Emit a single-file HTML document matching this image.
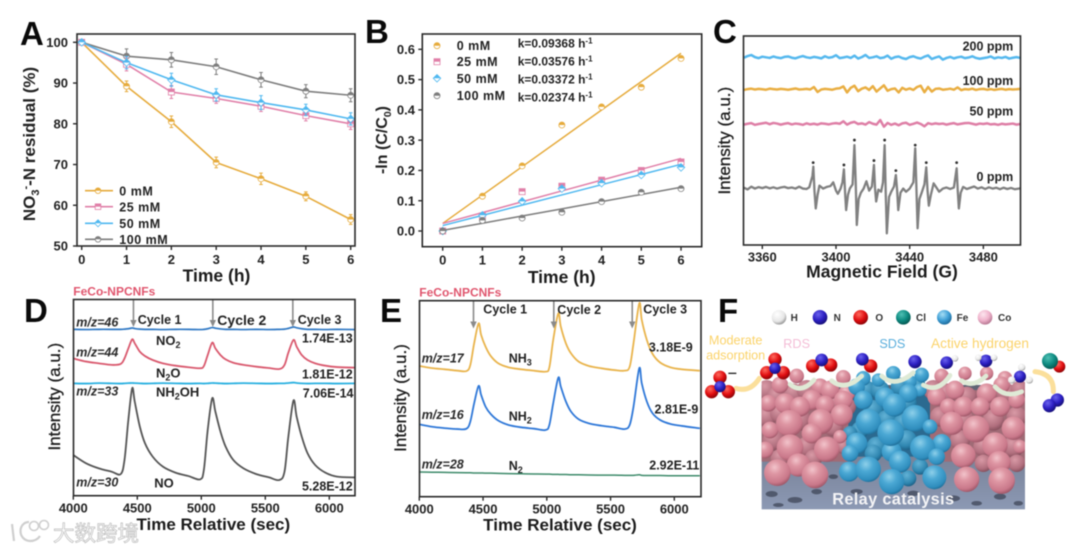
<!DOCTYPE html>
<html lang="en">
<head>
<meta charset="utf-8">
<title>FeCo-NPCNFs relay catalysis figure</title>
<style>
html,body{margin:0;padding:0;background:#fff;width:1080px;height:552px;overflow:hidden}
svg{display:block;filter:blur(.6px);font-family:"Liberation Sans","Noto Sans CJK SC",sans-serif}
.b{font-weight:700;fill:#222}
.letter{font-weight:700;font-size:33px;fill:#0a0a0a}
.title{font-weight:700;font-size:17.5px;fill:#1c1c1c}
.tick{font-weight:700;font-size:13px;fill:#222}
.leg{font-weight:700;font-size:12.5px;fill:#222;letter-spacing:.5px}
.mz{font-weight:700;font-style:italic;font-size:12.5px;fill:#2a2a2a}
.cy{font-weight:700;font-size:12.5px;fill:#222}
.sp{font-weight:700;font-size:12.5px;fill:#222}
.val{font-weight:700;font-size:12.5px;fill:#222}
.int{font-size:17px;fill:#1c1c1c;stroke:#1c1c1c;stroke-width:.3}
.fe{font-weight:700;font-size:12px;fill:#e0566e}
.frame{fill:none;stroke:#2a2a2a;stroke-width:1.6}
</style>
</head>
<body>
<svg id="figure" xmlns="http://www.w3.org/2000/svg" width="1080" height="552" viewBox="0 0 1080 552">
<defs>
<radialGradient id="gp" cx="40%" cy="30%" r="72%"><stop offset="0" stop-color="#f2c4cb"/><stop offset=".35" stop-color="#de96a3"/><stop offset=".8" stop-color="#c9788a"/><stop offset="1" stop-color="#9c5566"/></radialGradient>
<radialGradient id="gpd" cx="40%" cy="30%" r="72%"><stop offset="0" stop-color="#d99aa6"/><stop offset=".7" stop-color="#b16f7e"/><stop offset="1" stop-color="#854f5c"/></radialGradient>
<radialGradient id="gb" cx="40%" cy="30%" r="72%"><stop offset="0" stop-color="#8ed0ea"/><stop offset=".4" stop-color="#4ba8d4"/><stop offset=".85" stop-color="#2f8dbd"/><stop offset="1" stop-color="#1f6e98"/></radialGradient>
<radialGradient id="gbd" cx="40%" cy="30%" r="72%"><stop offset="0" stop-color="#62b2d6"/><stop offset=".7" stop-color="#2f86b0"/><stop offset="1" stop-color="#1c5f85"/></radialGradient>
<radialGradient id="gn" cx="38%" cy="30%" r="70%"><stop offset="0" stop-color="#6a62ee"/><stop offset=".6" stop-color="#2c1fc2"/><stop offset="1" stop-color="#17107a"/></radialGradient>
<radialGradient id="go" cx="38%" cy="30%" r="70%"><stop offset="0" stop-color="#ff6a5e"/><stop offset=".6" stop-color="#e00d10"/><stop offset="1" stop-color="#8e0508"/></radialGradient>
<radialGradient id="gh" cx="38%" cy="30%" r="70%"><stop offset="0" stop-color="#fff"/><stop offset=".7" stop-color="#e6e6e6"/><stop offset="1" stop-color="#9a9a9a"/></radialGradient>
<radialGradient id="gc" cx="38%" cy="30%" r="70%"><stop offset="0" stop-color="#4fc0b4"/><stop offset=".6" stop-color="#0d8a80"/><stop offset="1" stop-color="#075a54"/></radialGradient>
<radialGradient id="gf" cx="38%" cy="30%" r="70%"><stop offset="0" stop-color="#a6def5"/><stop offset=".6" stop-color="#3f9fd6"/><stop offset="1" stop-color="#1f6d9e"/></radialGradient>
<radialGradient id="gk" cx="38%" cy="30%" r="70%"><stop offset="0" stop-color="#fde6ef"/><stop offset=".6" stop-color="#efb2cb"/><stop offset="1" stop-color="#b87a94"/></radialGradient>
<linearGradient id="gsub" x1="0" y1="0" x2="0" y2="1"><stop offset="0" stop-color="#5f6373"/><stop offset="1" stop-color="#8c99b4"/></linearGradient>
<clipPath id="fclip"><rect x="185" y="0" width="790" height="658"/></clipPath>
</defs>

<!-- Panel A -->
<g id="marks-a"></g>
<rect class="frame" x="77" y="34" width="278" height="212"/>
<g id="axis-a"></g>
<text class="letter" x="20" y="45">A</text>
<text class="title" x="216.5" y="281.5" text-anchor="middle">Time (h)</text>
<text class="b" font-size="17" transform="translate(35,144) rotate(-90)" text-anchor="middle">NO<tspan font-size="11" dy="4">3</tspan><tspan font-size="11" dy="-10">-</tspan><tspan dy="6">-N residual (%)</tspan></text>
<text class="leg" x="119.3" y="195.5">0 mM</text>
<text class="leg" x="119.3" y="211.5">25 mM</text>
<text class="leg" x="119.3" y="228">50 mM</text>
<text class="leg" x="119.3" y="244">100 mM</text>

<!-- Panel B -->
<g id="marks-b"></g>
<rect class="frame" x="422.3" y="34" width="279.4" height="212.7"/>
<g id="axis-b"></g>
<text class="letter" x="365" y="43">B</text>
<text class="title" x="561.7" y="283" text-anchor="middle">Time (h)</text>
<text class="b" font-size="16" transform="translate(387,140) rotate(-90)" text-anchor="middle">-ln (C/C<tspan font-size="10.5" dy="4">0</tspan><tspan dy="-4">)</tspan></text>
<text class="leg" x="456.7" y="50">0 mM</text>
<text class="leg" x="456.7" y="66">25 mM</text>
<text class="leg" x="456.7" y="83">50 mM</text>
<text class="leg" x="456.7" y="100">100 mM</text>
<text class="b" font-size="12" x="517.7" y="47.7">k=0.09368 h<tspan font-size="8" dy="-4">-1</tspan></text>
<text class="b" font-size="12" x="517.7" y="65.7">k=0.03576 h<tspan font-size="8" dy="-4">-1</tspan></text>
<text class="b" font-size="12" x="517.7" y="83.3">k=0.03372 h<tspan font-size="8" dy="-4">-1</tspan></text>
<text class="b" font-size="12" x="517.7" y="101.7">k=0.02374 h<tspan font-size="8" dy="-4">-1</tspan></text>

<!-- Panel C -->
<g id="marks-c"></g>
<rect class="frame" x="743.5" y="36" width="277" height="209"/>
<g id="axis-c"></g>
<text class="letter" x="713" y="43">C</text>
<text class="title" x="882" y="277.5" text-anchor="middle">Magnetic Field (G)</text>
<text class="int" transform="translate(730,140.7) rotate(-90)" text-anchor="middle">Intensity (a.u.)</text>
<text class="sp" x="1013.3" y="50.7" text-anchor="end">200 ppm</text>
<text class="sp" x="1013.3" y="85" text-anchor="end">100 ppm</text>
<text class="sp" x="1013.3" y="115.7" text-anchor="end">50 ppm</text>
<text class="sp" x="1013.3" y="181" text-anchor="end">0 ppm</text>

<!-- Panel D -->
<text class="fe" x="73.3" y="295.7">FeCo-NPCNFs</text>
<g id="marks-d"></g>
<rect class="frame" x="73.5" y="299.5" width="281.5" height="196.2"/>
<g id="axis-d"></g>
<text class="letter" x="24" y="322">D</text>
<text class="title" x="213.3" y="530" text-anchor="middle" style="font-size:17px">Time Relative (sec)</text>
<text class="int" transform="translate(60,396.7) rotate(-90)" text-anchor="middle">Intensity (a.u.)</text>
<text class="mz" x="76.3" y="326.7">m/z=46</text>
<text class="mz" x="76.3" y="356.7">m/z=44</text>
<text class="mz" x="76.3" y="395.7">m/z=33</text>
<text class="mz" x="76.3" y="486.7">m/z=30</text>
<text class="cy" x="137.7" y="324">Cycle 1</text>
<text class="cy" x="217.3" y="325" style="font-size:14px">Cycle 2</text>
<text class="cy" x="297.7" y="324">Cycle 3</text>
<text class="val" x="156" y="345" style="font-size:13px">NO<tspan font-size="9" dy="3">2</tspan></text>
<text class="val" x="156" y="377.7" style="font-size:13px">N<tspan font-size="9" dy="3">2</tspan><tspan dy="-3">O</tspan></text>
<text class="val" x="156" y="396.7" style="font-size:13px">NH<tspan font-size="9" dy="3">2</tspan><tspan dy="-3">OH</tspan></text>
<text class="val" x="154.3" y="487.7" style="font-size:13px">NO</text>
<text class="val" x="352.7" y="342.3" text-anchor="end">1.74E-13</text>
<text class="val" x="352.7" y="378.3" text-anchor="end">1.81E-12</text>
<text class="val" x="353.5" y="397.3" text-anchor="end">7.06E-14</text>
<text class="val" x="352.7" y="490.7" text-anchor="end">5.28E-12</text>

<!-- Panel E -->
<text class="fe" x="419.3" y="296.7">FeCo-NPCNFs</text>
<g id="marks-e"></g>
<rect class="frame" x="419.5" y="300.7" width="281.5" height="196"/>
<g id="axis-e"></g>
<text class="letter" x="380" y="322">E</text>
<text class="title" x="560" y="530.7" text-anchor="middle" style="font-size:17px">Time Relative (sec)</text>
<text class="int" transform="translate(406,398) rotate(-90)" text-anchor="middle">Intensity (a.u.)</text>
<text class="mz" x="421.7" y="362.7">m/z=17</text>
<text class="mz" x="421.7" y="419">m/z=16</text>
<text class="mz" x="421.7" y="468.3">m/z=28</text>
<text class="cy" x="483.3" y="313.3">Cycle 1</text>
<text class="cy" x="557.3" y="314">Cycle 2</text>
<text class="cy" x="643.3" y="313.3">Cycle 3</text>
<text class="val" x="508.7" y="362.3">NH<tspan font-size="9" dy="3">3</tspan></text>
<text class="val" x="508.7" y="420.7">NH<tspan font-size="9" dy="3">2</tspan></text>
<text class="val" x="508.7" y="470">N<tspan font-size="9" dy="3">2</tspan></text>
<text class="val" x="692.7" y="351.7" text-anchor="end">3.18E-9</text>
<text class="val" x="698.3" y="413.3" text-anchor="end">2.81E-9</text>
<text class="val" x="699.3" y="469.3" text-anchor="end">2.92E-11</text>

<!-- Panel F illustration: coordinates in a 3x local space -->
<text class="letter" x="718" y="322">F</text>
<g transform="translate(700,290) scale(.33333)">
  <rect x="185" y="285" width="790" height="373" fill="url(#gsub)"/>
  <rect x="185" y="300" width="260" height="215" fill="#a06b76"/>
  <rect x="445" y="300" width="245" height="200" fill="#2b6a90"/>
  <rect x="690" y="300" width="285" height="215" fill="#a06b76"/>
  <g fill="#3f4658" opacity=".75">
    <ellipse cx="215" cy="612" rx="18" ry="9"/><ellipse cx="285" cy="630" rx="22" ry="9"/><ellipse cx="350" cy="605" rx="16" ry="8"/><ellipse cx="400" cy="560" rx="14" ry="7"/><ellipse cx="470" cy="605" rx="18" ry="8"/><ellipse cx="640" cy="610" rx="18" ry="8"/><ellipse cx="760" cy="625" rx="20" ry="9"/><ellipse cx="830" cy="640" rx="16" ry="7"/><ellipse cx="900" cy="620" rx="18" ry="9"/><ellipse cx="955" cy="640" rx="14" ry="7"/><ellipse cx="235" cy="645" rx="16" ry="6"/>
  </g>
  <g clip-path="url(#fclip)">
  <g fill="url(#gpd)">
    <circle cx="200" cy="300" r="30"/><circle cx="230" cy="320" r="30"/><circle cx="280" cy="310" r="30"/><circle cx="320" cy="300" r="30"/><circle cx="350" cy="320" r="30"/><circle cx="400" cy="340" r="30"/><circle cx="440" cy="350" r="28"/><circle cx="200" cy="380" r="30"/><circle cx="240" cy="370" r="30"/><circle cx="300" cy="390" r="32"/><circle cx="400" cy="410" r="30"/><circle cx="220" cy="450" r="32"/><circle cx="320" cy="470" r="30"/><circle cx="430" cy="470" r="22"/><circle cx="240" cy="505" r="28"/><circle cx="340" cy="505" r="26"/>
    <circle cx="700" cy="300" r="30"/><circle cx="740" cy="310" r="30"/><circle cx="800" cy="320" r="30"/><circle cx="860" cy="330" r="30"/><circle cx="920" cy="310" r="30"/><circle cx="960" cy="300" r="28"/><circle cx="720" cy="380" r="30"/><circle cx="790" cy="390" r="32"/><circle cx="880" cy="390" r="32"/><circle cx="950" cy="380" r="30"/><circle cx="780" cy="450" r="30"/><circle cx="850" cy="470" r="30"/><circle cx="940" cy="470" r="32"/><circle cx="850" cy="520" r="26"/><circle cx="950" cy="520" r="26"/>
  </g>
  <g fill="url(#gbd)">
    <circle cx="500" cy="300" r="28"/><circle cx="540" cy="300" r="28"/><circle cx="600" cy="290" r="28"/><circle cx="650" cy="285" r="26"/><circle cx="520" cy="360" r="30"/><circle cx="620" cy="340" r="30"/><circle cx="560" cy="390" r="30"/><circle cx="610" cy="400" r="30"/><circle cx="530" cy="470" r="30"/><circle cx="620" cy="450" r="30"/><circle cx="660" cy="530" r="24"/><circle cx="520" cy="490" r="26"/><circle cx="625" cy="565" r="24"/><circle cx="480" cy="420" r="26"/><circle cx="450" cy="430" r="22"/>
  </g>
  <g fill="url(#gp)">
    <circle cx="290" cy="258" r="22"/><circle cx="430" cy="262" r="22"/><circle cx="240" cy="285" r="25"/><circle cx="360" cy="290" r="25"/><circle cx="390" cy="300" r="28"/><circle cx="440" cy="310" r="25"/><circle cx="335" cy="330" r="30"/><circle cx="430" cy="330" r="28"/><circle cx="205" cy="340" r="25"/><circle cx="255" cy="340" r="30"/><circle cx="375" cy="345" r="28"/><circle cx="300" cy="350" r="30"/><circle cx="425" cy="375" r="33"/><circle cx="210" cy="420" r="25"/><circle cx="362" cy="395" r="38"/><circle cx="268" cy="400" r="40"/><circle cx="335" cy="430" r="30"/><circle cx="420" cy="440" r="20"/><circle cx="270" cy="473" r="40"/><circle cx="380" cy="478" r="38"/><circle cx="195" cy="480" r="25"/><circle cx="295" cy="525" r="35"/><circle cx="232" cy="548" r="40"/><circle cx="345" cy="555" r="40"/>
  </g>
  <g fill="url(#gp)">
    <circle cx="725" cy="258" r="22"/><circle cx="795" cy="250" r="20"/><circle cx="860" cy="250" r="20"/><circle cx="915" cy="265" r="22"/><circle cx="905" cy="285" r="25"/><circle cx="765" cy="300" r="28"/><circle cx="860" cy="310" r="30"/><circle cx="710" cy="320" r="28"/><circle cx="950" cy="330" r="25"/><circle cx="745" cy="350" r="25"/><circle cx="790" cy="350" r="30"/><circle cx="840" cy="350" r="28"/><circle cx="900" cy="350" r="30"/><circle cx="755" cy="400" r="35"/><circle cx="940" cy="415" r="35"/><circle cx="828" cy="417" r="40"/><circle cx="960" cy="470" r="20"/><circle cx="885" cy="465" r="38"/><circle cx="790" cy="497" r="37"/><circle cx="897" cy="518" r="35"/><circle cx="800" cy="568" r="38"/><circle cx="905" cy="572" r="40"/>
  </g>
  <g fill="url(#gb)">
    <circle cx="580" cy="250" r="22"/><circle cx="665" cy="255" r="22"/><circle cx="490" cy="265" r="22"/><circle cx="535" cy="270" r="20"/><circle cx="630" cy="275" r="20"/><circle cx="470" cy="290" r="25"/><circle cx="660" cy="300" r="20"/><circle cx="625" cy="310" r="28"/><circle cx="555" cy="322" r="30"/><circle cx="490" cy="330" r="28"/><circle cx="583" cy="345" r="35"/><circle cx="645" cy="385" r="40"/><circle cx="505" cy="395" r="38"/><circle cx="690" cy="410" r="22"/><circle cx="470" cy="460" r="32"/><circle cx="725" cy="460" r="28"/><circle cx="668" cy="473" r="38"/><circle cx="575" cy="485" r="30"/><circle cx="450" cy="490" r="25"/><circle cx="710" cy="500" r="25"/><circle cx="600" cy="515" r="33"/><circle cx="572" cy="428" r="40"/><circle cx="447" cy="545" r="30"/><circle cx="505" cy="538" r="38"/><circle cx="703" cy="562" r="36"/><circle cx="575" cy="575" r="38"/>
  </g>
  </g>
  <g fill="none" stroke="#dfead6" stroke-width="14" stroke-linecap="round">
    <path d="M270 283Q305 312 342 270"/><path d="M395 272Q435 305 485 258"/><path d="M545 258Q585 295 640 248"/><path d="M670 285Q715 310 750 256"/><path d="M785 272Q820 295 858 258"/><path d="M885 290Q915 325 965 305"/>
  </g>
  <g fill="none" stroke="#fbdf9b" stroke-width="15" stroke-linecap="round">
    <path d="M108 295Q150 308 178 265"/><path d="M1005 245Q1062 252 1060 305"/>
  </g>
  <g>
    <circle cx="237" cy="82" r="22" fill="url(#gh)"/><circle cx="360" cy="82" r="22" fill="url(#gn)"/><circle cx="482" cy="82" r="22" fill="url(#go)"/><circle cx="610" cy="82" r="22" fill="url(#gc)"/><circle cx="733" cy="82" r="22" fill="url(#gf)"/><circle cx="855" cy="82" r="22" fill="url(#gk)"/>
    <g font-weight="700" font-size="30" fill="#333">
      <text x="272" y="93">H</text><text x="401" y="93">N</text><text x="526" y="93">O</text><text x="648" y="93">Cl</text><text x="770" y="93">Fe</text><text x="894" y="93">Co</text>
    </g>
  </g>
  <g font-size="38">
    <text fill="#fbd36a" x="107" y="163" text-anchor="middle">Moderate</text>
    <text fill="#fbd36a" x="107" y="209" text-anchor="middle">adsorption</text>
    <text fill="#f4bdd6" x="290" y="174" text-anchor="middle">RDS</text>
    <text fill="#5aaedc" x="577" y="174" text-anchor="middle">SDS</text>
    <text fill="#fbd36a" x="840" y="174" text-anchor="middle" font-size="41">Active hydrogen</text>
  </g>
  <g>
    <g><circle cx="60" cy="262" r="20" fill="url(#go)"/><circle cx="35" cy="305" r="20" fill="url(#go)"/><circle cx="85" cy="305" r="20" fill="url(#go)"/><circle cx="60" cy="290" r="17" fill="url(#gn)"/><rect x="85" y="248" width="24" height="4" fill="#222"/></g>
    <g><circle cx="225" cy="208" r="20" fill="url(#go)"/><circle cx="200" cy="248" r="20" fill="url(#go)"/><circle cx="250" cy="248" r="20" fill="url(#go)"/><circle cx="225" cy="235" r="17" fill="url(#gn)"/></g>
    <g><circle cx="338" cy="228" r="20" fill="url(#go)"/><circle cx="392" cy="225" r="20" fill="url(#go)"/><circle cx="365" cy="210" r="19" fill="url(#gn)"/></g>
    <g><circle cx="512" cy="228" r="20" fill="url(#go)"/><circle cx="487" cy="208" r="19" fill="url(#gn)"/></g>
    <circle cx="645" cy="215" r="20" fill="url(#gn)"/>
    <g><circle cx="740" cy="218" r="19" fill="url(#gn)"/><circle cx="765" cy="205" r="10" fill="url(#gh)"/></g>
    <g><circle cx="858" cy="213" r="19" fill="url(#gn)"/><circle cx="835" cy="203" r="10" fill="url(#gh)"/><circle cx="882" cy="203" r="10" fill="url(#gh)"/></g>
    <g><circle cx="960" cy="260" r="18" fill="url(#gn)"/><circle cx="965" cy="232" r="11" fill="url(#gh)"/><circle cx="935" cy="270" r="11" fill="url(#gh)"/><circle cx="988" cy="270" r="11" fill="url(#gh)"/></g>
    <g><circle cx="1078" cy="230" r="18" fill="url(#go)"/><circle cx="1050" cy="213" r="24" fill="url(#gc)"/></g>
    <g><circle cx="1072" cy="330" r="20" fill="url(#gn)"/><circle cx="1048" cy="347" r="20" fill="url(#gn)"/></g>
  </g>
  <text x="580" y="643" text-anchor="middle" font-weight="700" font-size="49" fill="#f4f4f6" letter-spacing="1">Relay catalysis</text>
</g>

<!-- Watermark -->
<g>
  <path d="M12 524L14 541M29 522C18 522 17 540 30 541C35 541 38 539 40 536" fill="none" stroke="#cfcfcf" stroke-width="2.2"/>
  <circle cx="34" cy="526" r="4.5" fill="none" stroke="#cfcfcf" stroke-width="1.6"/>
  <circle cx="44" cy="525" r="4.5" fill="none" stroke="#cfcfcf" stroke-width="1.6"/>
  <text x="53" y="541" font-size="21.5" fill="#fff" stroke="#bdbdbd" stroke-width=".7">大数跨境</text>
</g>
</svg>

<script>
// ---------- Panel A data ----------
const hours = [0, 1, 2, 3, 4, 5, 6];
const concentrations = ['0 mM', '25 mM', '50 mM', '100 mM'];
const residual0 = [100, 89.2, 80.5, 70.5, 66.5, 62.2, 56.5];
const residual25 = [100, 94.6, 87.8, 86.2, 84.3, 82, 80];
const residual50 = [100, 95, 90.8, 87.1, 85.2, 83.4, 81.2];
const residual100 = [100, 96.6, 95.7, 94, 90.8, 88, 87];
const residualErr0 = [0.3, 1.3, 1.4, 1.3, 1.4, 1.1, 1.2];
const residualErr25 = [0.3, 1.6, 1.6, 1.2, 1.3, 1.3, 1.4];
const residualErr50 = [0.3, 1.5, 1.6, 1.5, 1.7, 1.4, 1.5];
const residualErr100 = [0.3, 1.8, 1.8, 1.9, 1.8, 1.6, 1.6];
const aYTicks = ['50', '60', '70', '80', '90', '100'];
const aXTicks = ['0', '1', '2', '3', '4', '5', '6'];

// ---------- Panel B data ----------
const lnC0 = [0, 0.115, 0.215, 0.35, 0.41, 0.475, 0.57];
const lnC25 = [0, 0.05, 0.13, 0.148, 0.168, 0.2, 0.228];
const lnC50 = [0, 0.052, 0.098, 0.14, 0.158, 0.185, 0.21];
const lnC100 = [0, 0.035, 0.043, 0.062, 0.097, 0.128, 0.14];
const fitSlopes = [0.09368, 0.03576, 0.03372, 0.02374];
const fitIntercepts = [0.025, 0.025, 0.018, 0.002];
const bYTicks = ['0.0', '0.1', '0.2', '0.3', '0.4', '0.5', '0.6'];
const bXTicks = ['0', '1', '2', '3', '4', '5', '6'];

// ---------- Panel C data (signal in a.u., frame = 0..100) ----------
const cXTicks = ['3360', '3400', '3440', '3480'];
const noiseFields = [3350,3352,3354,3356,3358,3360,3362,3364,3366,3368,3370,3372,3374,3376,3378,3380,3382,3384,3386,3388,3390,3392,3394,3396,3398,3400,3402,3404,3406,3408,3410,3412,3414,3416,3418,3420,3422,3424,3426,3428,3430,3432,3434,3436,3438,3440,3442,3444,3446,3448,3450,3452,3454,3456,3458,3460,3462,3464,3466,3468,3470,3472,3474,3476,3478,3480,3482,3484,3486,3488,3490,3492,3494,3496,3498,3500];
const signal200 = [89.6,90.4,90.9,89.9,89.4,90.1,89.8,89.5,90.2,89.7,89.4,90.0,90.2,89.6,89.3,89.9,90.4,89.8,89.5,90.0,89.7,89.3,90.3,89.6,89.9,90.8,89.4,89.7,90.1,89.5,90.6,89.2,89.9,90.9,89.5,89.8,90.3,89.4,89.7,90.6,89.1,89.9,90.2,89.4,89.0,89.9,90.3,89.6,89.2,90.1,90.7,89.0,89.7,90.2,88.7,89.5,90.0,89.3,89.8,90.1,89.4,89.7,90.3,89.5,89.1,89.4,89.7,90.2,89.3,89.8,89.5,90.0,89.2,89.6,89.9,89.5];
const signal100 = [74.2,74.6,74.8,74.4,74.7,74.5,74.3,74.8,74.6,74.4,74.7,74.5,74.3,74.6,74.9,74.4,74.5,74.7,74.4,75.6,73.2,74.4,74.7,74.5,74.3,74.8,75.0,75.9,73.0,75.2,76.2,73.6,74.8,75.4,74.2,76.0,73.4,74.9,76.4,73.8,74.6,74.9,73.0,75.2,74.3,74.9,74.2,75.6,76.2,73.1,75.6,73.4,74.7,74.9,74.3,74.5,74.8,74.3,75.4,74.1,74.6,74.4,74.8,74.2,74.6,74.7,74.3,74.6,74.2,74.5,74.7,74.3,74.6,74.4,74.5,74.7];
const signal50 = [57.6,58.0,58.3,57.5,57.9,58.2,58.5,57.8,58.4,58.1,57.6,58.0,58.3,57.7,58.1,57.9,57.5,58.2,57.7,58.0,57.6,58.2,58.0,57.7,58.1,58.3,58.0,59.2,57.6,58.5,58.9,57.9,58.2,57.6,58.8,58.0,57.6,59.8,56.6,58.4,57.5,58.1,57.3,58.2,58.5,57.5,58.0,58.6,57.9,56.8,58.3,57.8,58.2,57.9,58.1,57.6,58.0,58.3,57.7,58.0,58.3,58.4,58.0,57.6,58.1,57.9,58.2,57.7,57.9,57.5,58.0,57.7,57.9,58.1,57.6,57.9];
const fields0 = [3350,3352,3354,3356,3358,3360,3362,3364,3366,3368,3370,3372,3374,3376,3378,3380,3382,3384,3385.5,3387.2,3387.7,3388.3,3389,3390,3391,3393,3395,3397,3398.5,3400,3401,3402.5,3403.5,3404.3,3405,3405.5,3406.5,3407.5,3409,3410,3410.7,3411.3,3412.3,3413.5,3415,3416.5,3418,3419.5,3420.6,3421.2,3421.8,3423,3424.5,3425.5,3426.4,3427,3427.6,3428.8,3430,3431.5,3432.5,3433.2,3433.8,3435,3436.5,3438,3440,3442,3443,3443.7,3444.3,3445.3,3446.5,3448,3449,3449.7,3450.4,3451.5,3453,3454.5,3456,3458,3460,3462,3464,3465.5,3466.1,3466.7,3467.7,3469,3471,3473,3475,3477,3479,3481,3483,3485,3487,3489,3491,3493,3495,3497,3500];
const signal0 = [27.4,26.6,27.9,27.0,27.7,27.2,27.8,27.1,27.6,27.0,27.5,27.8,27.2,27.5,27.0,27.9,27.0,26.8,27.6,33,37.5,26,17.5,24,28.4,27,27.8,28.2,30,26,24.5,27,30,36.2,24,16.7,24,27,29,47.8,30,9.6,22,25,27,30.5,26,28,38.3,27,20.8,26.5,25.5,30,47.8,25,5.6,23,25.5,28,33.5,26,16.7,25,27,25.5,27,30,46.3,26,8,22,25,29,37.2,26,18.8,24,29.5,27.5,25.5,27,27.5,26.8,27.5,36.7,26,17.5,25,27.8,26.8,27.4,28,27,27.6,26.8,27.6,27,27.4,26.7,27.4,26.8,27.3,26.7,27.1];
const peakFields = [3387.6, 3404.3, 3410, 3420.6, 3426.4, 3432.5, 3443, 3449, 3465.5];
const peakMarkers = [39.4, 38.3, 50.2, 40.4, 50.2, 35.6, 47.8, 39.4, 39.4];

// ---------- Panel D data (a.u., frame = 0..100) ----------
const dXTicks = ['4000', '4500', '5000', '5500', '6000'];
const dTimes = [4000,4100,4200,4300,4370,4400,4430,4460,4480,4520,4560,4620,4700,4800,4900,4990,5020,5050,5085,5110,5150,5190,5250,5330,5430,5530,5610,5650,5680,5720,5745,5785,5830,5890,5970,6060,6200];
const mz30 = [20.7,16.5,13.9,12.2,11,18.2,38.5,54.7,47.9,35.1,26.7,19.9,14.8,11.7,10,8.3,13.1,33.4,49.6,42.8,32.6,25,18.2,13.9,11,9.3,8,12.2,30,48.4,40.2,30,21.6,15.6,11.7,9.7,9.3];
const mz44 = [69.9,68.3,67.4,66.6,67.1,69.9,75,79.6,77.6,73.3,71.1,69.1,67.4,66.2,65.4,64.9,66,71.6,77.9,75,71.6,69.4,67.7,66.6,65.7,65,64.5,66.6,72.8,79.3,75.9,71.6,69.1,67.4,66.2,65.5,65.2];
const mz46 = [84.7,84.6,84.7,84.7,84.7,84.8,85,85.4,85.1,84.8,84.7,84.7,84.6,84.7,84.7,84.6,84.7,85,85.6,85.3,84.9,84.7,84.7,84.6,84.7,84.6,84.7,84.8,85.2,85.9,85.5,85,84.7,84.7,84.6,84.7,84.6];
const mz33 = [57.2,57.1,57.3,57.2,57.1,57.2,57.3,57.4,57.3,57.2,57.1,57.2,57.3,57.2,57.1,57.2,57.1,57.2,57.4,57.3,57.2,57.1,57.2,57.3,57.2,57.1,57.2,57.2,57.4,57.6,57.4,57.2,57.1,57.2,57.2,57.1,57.2];
const dArrowTimes = [4470, 5090, 5715];

// ---------- Panel E data (a.u., frame = 0..100) ----------
const eXTicks = ['4000', '4500', '5000', '5500', '6000'];
const eTimes = [4000,4100,4200,4300,4370,4400,4430,4465,4485,4520,4560,4620,4700,4800,4900,4990,5020,5050,5090,5110,5150,5190,5250,5330,5430,5530,5610,5650,5680,5725,5745,5785,5830,5890,5970,6060,6200];
const mz17 = [66.7,65.6,65,64.3,64.1,67.2,78.2,88.4,82.5,76.5,71.8,68,66,65,64.3,63.8,66,79.9,93.5,86.7,78.2,73.1,68.9,66.7,65.5,64.6,64.3,66.3,78.2,98.6,90.1,79.9,72.8,68.4,66,65,64.3];
const mz16 = [36.9,35.7,35,34.5,34.7,38.3,47.6,56.5,51.9,45.9,42.2,38.8,36.6,35.4,34.7,34,36.6,47.6,60.7,56.1,48.5,43.4,39.5,37.4,36.2,35.4,34.5,36.6,45.9,65.5,57.8,48.5,42.5,39.1,37.1,36.1,34.9];
const mz28 = [12.6,12.5,12.4,12.3,12.2,12.2,12.1,12.1,12.1,12,12,11.9,11.8,11.7,11.6,11.5,11.5,11.4,11.4,11.3,11.3,11.2,11.2,11.1,11,11,10.9,10.9,10.9,11.2,10.9,10.8,10.8,10.8,10.7,10.7,10.7];
const eArrowTimes = [4425, 5055, 5670];

// ---------- Axis functions ----------
const xA = t => 81.7 + t * 44.83;
const yA = v => 246 - (v - 50) * 4.074;
const xB = t => 442.7 + t * 39.72;
const yB = v => 231 - v * 302.8;
const xC = g => 743.9 + (g - 3350) * 1.842;
const yC = v => 245 - v * 2.09;
const xD = s => 73.3 + (s - 4000) * 0.128;
const yD = v => 495.7 - v * 1.964;
const xE = s => 419.3 + (s - 4000) * 0.1275;
const yE = v => 496.7 - v * 1.96;

const NS = 'http://www.w3.org/2000/svg';
function add(parent, tag, attrs) {
  const node = document.createElementNS(NS, tag);
  for (const k in attrs) node.setAttribute(k, attrs[k]);
  parent.appendChild(node);
  return node;
}
function named(node, name) {
  
  
  return node;
}
function pathOf(xs, ys, sx, sy) {
  return xs.map((x, i) => (i ? 'L' : 'M') + sx(x).toFixed(2) + ' ' + sy(ys[i]).toFixed(2)).join('');
}
function smoothPathOf(xs, ys, sx, sy) {
  const px = xs.map(sx), py = ys.map(sy);
  let d = 'M' + px[0].toFixed(2) + ' ' + py[0].toFixed(2);
  for (let i = 0; i < px.length - 1; i++) {
    const a = Math.max(i - 1, 0), b = Math.min(i + 2, px.length - 1);
    const c1x = px[i] + (px[i + 1] - px[a]) / 6, c1y = py[i] + (py[i + 1] - py[a]) / 6;
    const c2x = px[i + 1] - (px[b] - px[i]) / 6, c2y = py[i + 1] - (py[b] - py[i]) / 6;
    d += 'C' + c1x.toFixed(2) + ' ' + c1y.toFixed(2) + ' ' + c2x.toFixed(2) + ' ' + c2y.toFixed(2) + ' ' + px[i + 1].toFixed(2) + ' ' + py[i + 1].toFixed(2);
  }
  return d;
}
function line(parent, xs, ys, sx, sy, color, width, name) {
  const el = add(parent, 'path', {d: pathOf(xs, ys, sx, sy), fill: 'none', stroke: color, 'stroke-width': width, 'stroke-linejoin': 'round'});
  named(el, name);
  return el;
}
function curve(parent, xs, ys, sx, sy, color, width, name) {
  const el = add(parent, 'path', {d: smoothPathOf(xs, ys, sx, sy), fill: 'none', stroke: color, 'stroke-width': width, 'stroke-linejoin': 'round'});
  named(el, name);
  return el;
}
function marker(parent, shape, cx, cy, color, r, name) {
  const g = add(parent, 'g', {});
  named(g, name);
  if (shape === 'circle') {
    add(g, 'circle', {cx: cx, cy: cy, r: r, fill: '#fff', stroke: color, 'stroke-width': 0.8});
    add(g, 'path', {d: `M${cx - r} ${cy}A${r} ${r} 0 0 1 ${cx + r} ${cy}Z`, fill: color});
  } else if (shape === 'square') {
    add(g, 'rect', {x: cx - r, y: cy - r, width: 2 * r, height: 2 * r, fill: '#fff', stroke: color, 'stroke-width': 0.8});
    add(g, 'rect', {x: cx - r, y: cy - r, width: 2 * r, height: r, fill: color});
  } else {
    const q = r * 1.25;
    add(g, 'path', {d: `M${cx} ${cy - q}L${cx + q} ${cy}L${cx} ${cy + q}L${cx - q} ${cy}Z`, fill: '#fff', stroke: color, 'stroke-width': 0.8});
    add(g, 'path', {d: `M${cx} ${cy - q}L${cx + q} ${cy}L${cx - q} ${cy}Z`, fill: color});
  }
}
function axes(parent, xTicks, yTicks, sx, sy, bottom, left, labelY, labelX, prefix) {
  xTicks.forEach(label => {
    const x = sx(Number(label));
    const t = add(parent, 'line', {x1: x, x2: x, y1: bottom, y2: bottom + 4, stroke: '#2a2a2a', 'stroke-width': 1.4});
    named(t, prefix + '-x-tick-' + label);
    const l = add(parent, 'text', {x: x, y: labelY, 'text-anchor': 'middle', class: 'tick'});
    l.textContent = label;
    named(l, prefix + '-x-label-' + label);
  });
  yTicks.forEach(label => {
    const y = sy(Number(label));
    const t = add(parent, 'line', {x1: left - 4, x2: left, y1: y, y2: y, stroke: '#2a2a2a', 'stroke-width': 1.4});
    named(t, prefix + '-y-tick-' + label);
    const l = add(parent, 'text', {x: labelX, y: y + 4.6, 'text-anchor': 'end', class: 'tick'});
    l.textContent = label;
    named(l, prefix + '-y-label-' + label);
  });
}
function cycleArrows(parent, times, sx, top, tipY, prefix) {
  times.forEach((t, i) => {
    const x = sx(t);
    const shaft = add(parent, 'line', {x1: x, x2: x, y1: top, y2: tipY - 5, stroke: '#8a8a8a', 'stroke-width': 1.6});
    named(shaft, prefix + '-cycle-arrow-shaft-' + (i + 1));
    const head = add(parent, 'path', {d: `M${x - 3.2} ${tipY - 7}L${x + 3.2} ${tipY - 7}L${x} ${tipY}Z`, fill: '#8a8a8a'});
    named(head, prefix + '-cycle-arrow-head-' + (i + 1));
  });
}

const colors = ['#e6ab3c', '#e07fa8', '#4fb8f0', '#7d7d7d'];
const shapes = ['circle', 'square', 'diamond', 'circle'];

// Panel A drawing
(function () {
  const g = document.getElementById('marks-a');
  const series = [residual0, residual25, residual50, residual100];
  const errs = [residualErr0, residualErr25, residualErr50, residualErr100];
  [3, 0, 1, 2].forEach(s => {
    line(g, hours, series[s], xA, yA, colors[s], 1.6, 'residual-line-' + concentrations[s].replace(' ', '-'));
    hours.forEach((h, i) => {
      const x = xA(h), v = series[s][i], e = errs[s][i];
      const bar = add(g, 'path', {d: `M${x} ${yA(v - e)}L${x} ${yA(v + e)}M${x - 1.8} ${yA(v + e)}L${x + 1.8} ${yA(v + e)}M${x - 1.8} ${yA(v - e)}L${x + 1.8} ${yA(v - e)}`, stroke: colors[s], 'stroke-width': 1, fill: 'none'});
      named(bar, 'residual-error-bar');
      marker(g, shapes[s], x, yA(v), colors[s], 3, 'residual-point');
    });
  });
  axes(document.getElementById('axis-a'), aXTicks, aYTicks, xA, yA, 246, 77, 264, 68, 'a');
  const legendY = [190.7, 206.7, 223.3, 239.3];
  concentrations.forEach((c, s) => {
    const ln = add(g, 'line', {x1: 85, x2: 113, y1: legendY[s], y2: legendY[s], stroke: colors[s], 'stroke-width': 1.6});
    named(ln, 'legend-a-line');
    marker(g, shapes[s], 98, legendY[s], colors[s], 2.8, 'legend-a-marker');
  });
})();

// Panel B drawing
(function () {
  const g = document.getElementById('marks-b');
  const series = [lnC0, lnC25, lnC50, lnC100];
  series.forEach((vals, s) => {
    const fit = hours.map(h => fitIntercepts[s] + fitSlopes[s] * h);
    line(g, hours, fit, xB, yB, colors[s], 1.5, 'fit-line-' + concentrations[s].replace(' ', '-'));
    hours.forEach((h, i) => {
      marker(g, shapes[s], xB(h), yB(vals[i]), colors[s], 3, 'kinetic-point');
    });
  });
  axes(document.getElementById('axis-b'), bXTicks, bYTicks, xB, yB, 246.7, 422.3, 264.5, 415, 'b');
  const legendY = [45.7, 61.7, 78.3, 95.7];
  concentrations.forEach((c, s) => {
    marker(g, shapes[s], 437, legendY[s], colors[s], 3, 'legend-b-marker');
  });
})();

// Panel C drawing
(function () {
  const g = document.getElementById('marks-c');
  line(g, noiseFields, signal200, xC, yC, '#55b8ee', 2.5, 'epr-trace-200-ppm');
  line(g, noiseFields, signal100, xC, yC, '#e9ae42', 2.5, 'epr-trace-100-ppm');
  line(g, noiseFields, signal50, xC, yC, '#de7fa6', 2.5, 'epr-trace-50-ppm');
  line(g, fields0, signal0, xC, yC, '#808080', 2.3, 'epr-trace-0-ppm');
  peakFields.forEach((f, i) => {
    const d = add(g, 'circle', {cx: xC(f), cy: yC(peakMarkers[i]), r: 1.4, fill: '#333'});
    named(d, 'epr-peak-marker');
  });
  axes(document.getElementById('axis-c'), cXTicks, [], xC, yC, 245, 743.5, 261.7, 0, 'c');
})();

// Panel D drawing
(function () {
  const g = document.getElementById('marks-d');
  curve(g, dTimes, mz46, xD, yD, '#2f78c4', 1.7, 'trace-mz-46');
  curve(g, dTimes, mz44, xD, yD, '#d9596e', 1.8, 'trace-mz-44');
  curve(g, dTimes, mz33, xD, yD, '#2ab0e0', 1.8, 'trace-mz-33');
  curve(g, dTimes, mz30, xD, yD, '#555', 1.8, 'trace-mz-30');
  cycleArrows(g, dArrowTimes, xD, 299.5, 327, 'd');
  axes(document.getElementById('axis-d'), dXTicks, [], xD, yD, 495.7, 73.5, 512.3, 0, 'd');
})();

// Panel E drawing
(function () {
  const g = document.getElementById('marks-e');
  curve(g, eTimes, mz17, xE, yE, '#e9b44c', 1.8, 'trace-mz-17');
  curve(g, eTimes, mz16, xE, yE, '#2f78d8', 1.8, 'trace-mz-16');
  curve(g, eTimes, mz28, xE, yE, '#3d8a6a', 1.5, 'trace-mz-28');
  cycleArrows(g, eArrowTimes, xE, 300.7, 328.5, 'e');
  axes(document.getElementById('axis-e'), eXTicks, [], xE, yE, 496.7, 419.5, 513.3, 0, 'e');
})();
</script>
</body>
</html>
